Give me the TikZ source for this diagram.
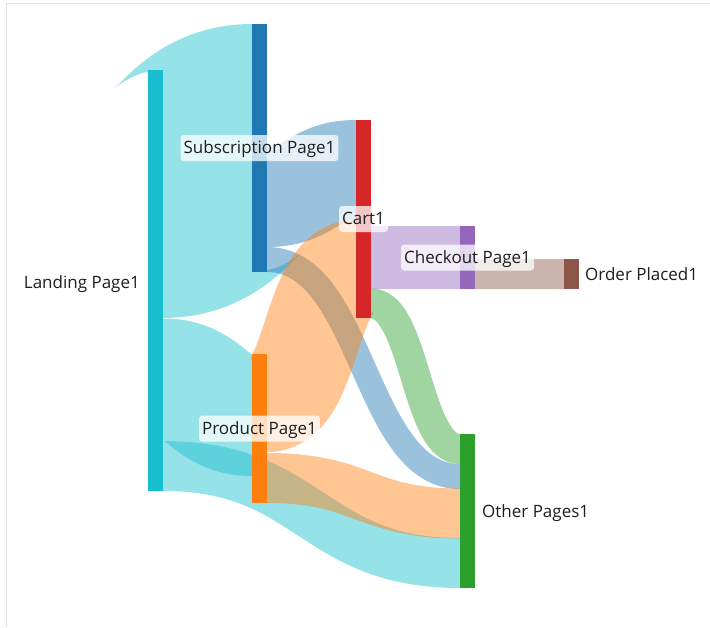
\documentclass[tikz,border=0pt]{standalone}
\usepackage{fontspec}
\setmainfont{Open Sans}
\usetikzlibrary{calc}
\definecolor{cland}{HTML}{17BECF}
\definecolor{csub}{HTML}{1F77B4}
\definecolor{cprod}{HTML}{FF7F0E}
\definecolor{ccart}{HTML}{D62728}
\definecolor{cchk}{HTML}{9467BD}
\definecolor{coth}{HTML}{2CA02C}
\definecolor{cord}{HTML}{8C564B}
\definecolor{txt}{HTML}{1E1E1E}
\definecolor{framec}{HTML}{E2E2E2}
% link = band of width #3 around a cubic centre line (horizontal tangents, controls at mid x),
% outlined by the two offset curves and filled
\newcommand\sklink[4]{\fill[#4, fill opacity=0.45]
  let \p1=(#1), \p2=(#2), \n1={\x2-\x1}, \n2={\y2-\y1} in
  plot[variable=\t, domain=0:1, samples=141]
  ({\x1+\n1*(\t*\t*\t-1.5*\t*\t+1.5*\t) - (#3/2)*sin(atan2(\n2*(6*\t-6*\t*\t), \n1*(3*\t*\t-3*\t+1.5)))},
   {\y1+\n2*(3*\t*\t-2*\t*\t*\t) + (#3/2)*cos(atan2(\n2*(6*\t-6*\t*\t), \n1*(3*\t*\t-3*\t+1.5)))})
  -- plot[variable=\t, domain=1:0, samples=141]
  ({\x1+\n1*(\t*\t*\t-1.5*\t*\t+1.5*\t) + (#3/2)*sin(atan2(\n2*(6*\t-6*\t*\t), \n1*(3*\t*\t-3*\t+1.5)))},
   {\y1+\n2*(3*\t*\t-2*\t*\t*\t) - (#3/2)*cos(atan2(\n2*(6*\t-6*\t*\t), \n1*(3*\t*\t-3*\t+1.5)))})
  -- cycle;}
\begin{document}
\begin{tikzpicture}[x=1pt,y=-1pt,
  bar/.style={rectangle, inner sep=0pt, outer sep=0pt, minimum width=15pt, draw=none},
  lab/.style={font=\fontsize{17}{20}\selectfont, text=txt, inner sep=0pt},
  boxlab/.style={lab, fill=white, fill opacity=0.75, text opacity=1, rounded corners=3pt,
    inner xsep=3pt, text height=13pt, text depth=2pt, minimum height=26pt}]
\useasboundingbox (0,0) rectangle (710,627);
\draw[framec, line width=1pt] (6,627) -- (6,3.5) -- (710,3.5);
% link end points
\coordinate (ls1) at (163,194);   \coordinate (lt1) at (252,148);
\coordinate (ls2) at (163,379.5); \coordinate (lt2) at (252,415);
\coordinate (ls3) at (163,466);   \coordinate (lt3) at (460,563);
\coordinate (ls4) at (267,197);   \coordinate (lt4) at (356,170);
\coordinate (ls5) at (267,259.5); \coordinate (lt5) at (460,476.5);
\coordinate (ls6) at (267,403);   \coordinate (lt6) at (356,269);
\coordinate (ls7) at (267,478);   \coordinate (lt7) at (460,513.5);
\coordinate (ls8) at (371,257.5); \coordinate (lt8) at (460,257.5);
\coordinate (ls9) at (371,303.5); \coordinate (lt9) at (460,449);
\coordinate (ls10) at (475,274);  \coordinate (lt10) at (564,274);
% links
\sklink{ls1}{lt1}{248}{cland}
\sklink{ls2}{lt2}{122}{cland}
\sklink{ls3}{lt3}{50}{cland}
\sklink{ls4}{lt4}{100}{csub}
\sklink{ls5}{lt5}{25}{csub}
\sklink{ls6}{lt6}{98}{cprod}
\sklink{ls7}{lt7}{50}{cprod}
\sklink{ls8}{lt8}{63}{cchk}
\sklink{ls9}{lt9}{30}{coth}
\sklink{ls10}{lt10}{30}{cord}
% nodes
\node[bar, fill=cland, minimum height=421pt] (land) at (155.5,280.5) {};
\node[bar, fill=csub, minimum height=248pt] (sub) at (259.5,148) {};
\node[bar, fill=cprod, minimum height=149pt] (prod) at (259.5,428.5) {};
\node[bar, fill=ccart, minimum height=198pt] (cart) at (363.5,219) {};
\node[bar, fill=cchk, minimum height=63pt] (chk) at (467.5,257.5) {};
\node[bar, fill=coth, minimum height=154pt] (oth) at (467.5,511) {};
\node[bar, fill=cord, minimum height=30pt] (ord) at (571.5,274) {};
% labels
\node[lab, anchor=base east] (landl) at (140,288.3) {Landing Page1};
\node[boxlab] (subl) at (sub) {Subscription Page1};
\node[boxlab] (prodl) at (prod) {Product Page1};
\node[boxlab] (cartl) at (cart) {Cart1};
\node[boxlab] (chkl) at (chk) {Checkout Page1};
\node[lab, anchor=base west] (othl) at (482,517.3) {Other Pages1};
\node[lab, anchor=base west] (ordl) at (585,280.3) {Order Placed1};
\end{tikzpicture}
\end{document}
